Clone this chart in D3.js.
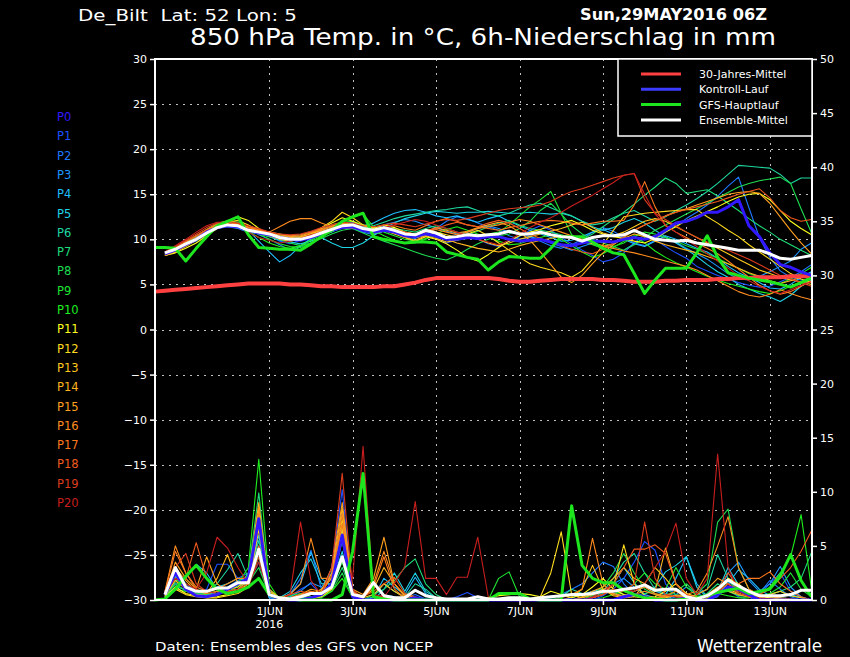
<!DOCTYPE html>
<html>
<head>
<meta charset="utf-8">
<script src="https://cdn.jsdelivr.net/npm/d3@7"></script>
<style>
body { margin: 0; background: #000; }
svg { display: block; }
text { font-family: "DejaVu Sans", sans-serif; fill: #fff; }
</style>
</head>
<body>
<div id="chart"></div>
<script>
// ---- data (6h steps, index 0 = 29 May 2016 06Z) ----
var memberNames = ['P0','P1','P2','P3','P4','P5','P6','P7','P8','P9','P10',
    'P11','P12','P13','P14','P15','P16','P17','P18','P19','P20'];
var memberColors = ['#3218ff','#1e50ff','#1e78ff','#1e96ff','#1ebeff','#1ed2e6','#1ed7a0',
    '#1edc78','#1edc50','#1ee632','#1ef01e','#ffff1e','#ffdc1e','#ffc81e','#ffb41e',
    '#ffa01e','#ff8c1e','#ff781e','#f05a1e','#dc3c1e','#c81e1e'];

// member temperatures, index 1..63
var memberTemp = [
 [8.4,8.8,9.4,10.0,10.8,11.3,11.5,11.4, 11.0,10.7,10.5,10.2,10.0,9.9,10.2,10.6, 11.0,11.3,11.4,11.0,10.8,11.0,10.8,10.4, 10.3,10.6,10.4,10.0,10.0,10.2,10.1,10.3, 10.3,10.0,9.8,9.9,10.0,9.7,9.4,9.3, 9.6,9.8,9.8,9.7,10.0,10.2,10.0,10.3, 11.0,11.8,12.0,12.4,13.0,13.0,13.6,14.4, 11.5,10.3,8.5,7.2,6.9,6.4,6.0],
 [8.4,8.9,9.6,10.2,10.9,11.5,11.8,11.6, 11.2,10.9,10.4,9.8,9.5,9.9,10.5,11.0, 11.4,11.8,11.9,11.4,11.1,11.4,11.2,10.8, 10.4,10.8,10.2,9.6,9.9,10.3,10.0,9.5, 9.2,9.8,10.3,11.0,11.5,11.0,10.2,9.5, 8.8,8.2,7.5,7.8,8.5,9.6,10.5,10.0, 9.2,8.5,7.9,7.0,6.5,6.0,5.6,5.2, 4.9,4.7,4.8,5.3,5.8,5.5,5.2],
 [8.6,9.0,9.4,9.8,10.5,11.2,11.7,11.9, 11.3,10.5,10.0,9.4,8.8,9.2,9.9,10.6, 11.0,11.3,11.2,10.8,10.5,10.9,10.8,10.2, 10.1,10.6,11.2,12.0,12.5,12.3,11.8,11.4, 11.0,10.4,10.0,10.2,9.8,9.3,9.0,9.4, 10.0,10.8,11.3,10.9,10.2,9.6,9.3,9.9, 10.8,11.5,12.3,13.0,13.8,14.8,15.9,16.9, 13.5,10.2,8.0,6.5,5.8,6.4,7.2],
 [8.5,8.8,9.3,10.0,10.6,11.2,11.4,11.2, 10.8,10.6,10.7,10.5,10.3,10.2,10.4,10.8, 11.2,11.6,11.7,11.4,11.2,11.6,11.9,12.2, 12.0,11.6,11.3,10.9,10.6,10.8,11.2,11.5, 11.2,10.8,10.5,10.3,10.0,9.6,9.2,8.8, 9.2,9.6,9.0,8.4,8.8,9.5,10.1,10.4, 10.2,9.7,9.0,8.4,7.8,7.0,6.2,5.6, 5.5,5.9,6.4,7.0,7.6,8.9,9.6],
 [8.6,9.0,9.7,10.4,11.0,11.4,11.8,11.7, 11.0,9.8,8.6,7.5,8.2,9.3,10.1,10.5, 10.8,11.3,11.8,11.5,11.8,12.4,12.9,13.2, 13.3,13.0,12.6,12.4,12.6,12.2,11.9,12.3, 12.6,12.0,11.5,11.0,10.6,10.2,9.8,9.9, 10.3,10.8,11.1,10.6,10.0,9.5,9.2,9.8, 10.4,10.0,9.5,9.0,8.6,7.9,7.0,6.3, 5.8,5.2,4.6,4.5,5.0,5.8,6.4],
 [8.4,8.8,9.4,10.0,10.7,11.2,11.5,11.3, 10.9,10.7,10.3,9.9,9.7,9.5,9.8,10.2, 9.6,9.1,9.1,9.6,10.4,11.2,11.8,12.3, 12.6,12.9,13.1,13.0,12.9,13.0,13.0,13.1, 13.0,12.9,12.9,13.0,12.9,12.8,12.9,12.6, 12.0,11.4,11.0,11.3,11.9,12.3,11.8,11.0, 10.3,9.6,8.9,8.1,7.2,6.4,5.8,5.0, 4.5,4.0,3.6,3.1,3.8,4.8,5.5],
 [8.5,9.0,9.6,10.2,10.8,11.3,11.6,11.4, 11.0,10.9,10.8,10.6,10.4,10.5,10.8,11.2, 11.6,11.9,11.7,11.3,11.5,11.9,12.3,12.6, 12.8,13.0,13.2,13.3,13.5,13.6,13.2,12.8, 12.6,12.9,13.4,13.8,14.0,13.5,13.0,12.6, 12.0,11.6,11.8,12.4,12.9,13.2,12.6,12.0, 12.5,13.2,13.8,14.5,15.3,16.2,17.2,18.2, 18.1,18.0,17.9,17.2,16.2,16.8,16.8],
 [8.3,8.8,9.5,10.1,10.9,11.6,12.0,11.8, 11.3,11.0,10.8,10.4,10.1,10.0,10.2,10.5, 10.9,11.2,11.3,11.0,10.6,10.9,11.2,11.0, 10.8,11.2,11.5,11.2,10.8,10.5,10.9,11.4, 11.8,12.1,11.6,11.2,11.0,10.8,10.5,10.2, 10.0,10.6,11.4,12.2,13.0,13.9,14.9,15.8, 16.8,16.2,15.1,15.3,15.5,14.8,14.0,13.2, 12.3,11.5,10.8,10.0,9.4,8.8,8.2],
 [8.6,9.1,9.8,10.4,11.0,11.5,11.7,11.5, 11.0,10.6,10.3,10.0,9.6,9.3,9.6,10.1, 10.6,11.0,11.2,10.7,10.2,9.8,9.4,9.0, 8.6,8.2,7.9,7.7,8.2,8.9,9.5,10.0, 10.4,10.6,11.2,12.0,13.2,14.0,12.8,11.5, 10.6,10.0,9.6,9.2,8.8,9.4,10.2,11.0, 11.6,12.2,12.8,13.4,14.0,14.6,15.2,15.8, 16.2,16.5,16.7,16.9,16.2,13.4,10.7],
 [8.4,8.9,9.5,10.2,11.0,11.7,12.1,11.9, 11.2,10.6,10.0,9.5,9.2,9.1,9.6,10.4, 11.2,12.0,12.5,12.8,11.4,10.8,10.4,10.0, 9.8,10.1,10.4,10.2,9.9,10.1,10.4,10.6, 10.8,11.6,12.6,13.6,14.4,15.3,12.9,10.5, 9.8,9.4,9.0,9.2,9.6,10.3,10.8,10.6, 10.2,9.8,9.3,8.9,8.4,7.9,7.3,6.8, 6.2,5.8,5.4,5.1,5.6,6.2,6.9],
 [8.5,9.0,9.6,10.3,11.1,11.8,12.0,11.6, 10.9,10.2,9.6,9.2,9.0,9.3,9.9,10.6, 11.3,11.9,12.0,11.6,11.0,10.4,9.9,9.6, 9.6,10.0,10.6,11.1,11.4,11.0,10.6,10.2, 9.8,9.4,9.5,9.9,10.2,10.5,10.0,9.3, 8.6,8.0,8.4,9.1,9.8,10.4,9.6,8.7, 8.0,7.4,6.9,6.4,5.9,5.5,5.1,4.8, 4.5,4.2,4.0,4.3,4.8,5.3,5.9],
 [8.2,8.5,9.0,9.6,10.4,11.2,11.9,12.5, 12.1,11.2,10.5,10.2,10.0,10.1,10.5,11.2, 11.8,12.4,12.0,11.5,11.2,11.6,11.3,10.8, 10.6,10.3,10.0,9.5,8.8,8.0,7.6,8.3, 9.1,9.8,10.4,10.8,11.1,11.5,11.8,12.1, 11.6,11.0,10.6,10.3,10.1,9.8,9.6,10.1, 10.8,11.4,12.1,12.6,13.1,13.6,14.2,14.7, 15.0,15.1,14.4,13.2,12.0,11.2,10.5],
 [8.2,8.6,9.2,9.9,10.7,11.4,11.9,12.1, 11.6,11.0,10.4,10.0,9.8,10.0,10.6,11.3, 12.0,13.0,12.4,11.6,11.3,11.0,10.6,10.2, 9.8,10.3,10.8,10.5,10.2,10.6,11.0,10.4, 9.6,8.8,8.0,7.3,6.9,6.6,6.3,5.8, 6.5,7.8,9.4,11.0,12.5,12.7,12.9,13.0, 13.1,13.2,13.3,13.3,12.5,11.8,11.0,10.3, 9.4,8.6,7.8,7.0,6.2,5.6,5.2],
 [8.2,8.7,9.3,9.9,10.6,11.2,11.5,11.4, 11.0,10.9,10.7,10.4,10.2,10.3,10.6,11.0, 11.4,11.9,11.6,11.1,10.7,10.9,11.1,10.6, 10.2,10.4,10.1,9.7,9.9,10.3,10.0,9.6, 9.3,9.6,10.0,10.3,10.6,10.9,11.2,11.6, 11.9,11.3,10.7,10.4,10.8,11.4,12.0,12.3, 12.0,11.4,10.8,10.2,9.6,9.0,8.4,7.8, 7.2,6.6,6.2,5.8,5.5,5.3,5.0],
 [8.3,8.8,9.5,10.2,11.0,11.6,11.8,11.6, 11.1,10.8,10.4,10.1,10.0,10.2,10.5,10.9, 11.2,11.4,11.3,11.0,10.8,11.0,10.7,10.2, 9.9,10.4,10.6,10.0,9.6,9.3,9.0,8.8, 8.6,8.9,9.3,9.6,9.9,10.1,10.4,10.3, 9.9,9.5,9.2,9.5,10.1,10.6,10.3,9.8, 9.4,9.1,8.8,8.5,8.1,7.7,7.3,6.8, 6.3,5.9,5.4,5.1,5.4,5.8,6.2],
 [8.2,8.7,9.4,10.0,10.8,11.4,11.7,11.6, 11.2,11.0,10.8,10.5,10.3,10.4,10.7,11.1, 11.5,11.8,11.5,11.1,10.9,11.2,11.0,10.6, 10.4,10.9,11.3,11.0,10.7,10.9,11.3,11.6, 11.9,11.5,10.8,9.9,8.6,7.2,5.8,5.2, 6.0,7.3,8.5,9.4,10.2,11.0,11.6,12.1, 12.6,13.0,13.4,13.8,14.2,14.6,15.0,15.2, 15.3,15.1,14.0,12.5,11.0,9.6,8.4],
 [8.3,8.8,9.4,10.1,10.9,11.5,11.8,11.7, 11.3,11.0,10.8,11.4,12.0,12.3,12.3,11.8, 11.4,11.2,11.3,11.0,10.8,11.1,11.0,10.6, 10.3,10.8,11.1,10.8,10.5,10.8,11.2,11.4, 11.6,11.9,12.2,12.0,11.6,11.2,10.8,10.4, 10.0,9.6,9.3,9.0,8.7,8.5,8.2,7.9, 7.6,7.3,7.0,6.6,6.0,5.4,4.8,4.2, 3.8,3.6,3.9,4.4,4.0,3.6,3.3],
 [8.4,9.0,9.7,10.4,11.1,11.7,11.9,11.7, 11.4,11.1,10.8,10.6,10.4,10.5,10.8,11.1, 11.4,11.7,11.5,11.2,11.0,11.3,11.5,11.2, 11.0,11.5,12.0,12.3,12.0,11.6,11.4,11.2, 11.0,11.3,11.5,11.8,12.0,12.1,12.0,11.8, 11.6,11.8,12.0,12.0,12.1,13.8,16.4,13.6, 11.5,10.8,10.2,9.6,9.0,8.4,7.6,6.7, 5.8,4.9,4.3,3.9,4.2,4.8,5.4],
 [8.5,9.1,9.8,10.4,11.0,11.4,11.6,11.5, 11.2,10.9,10.6,10.3,10.0,10.1,10.4,10.8, 11.1,11.4,11.5,11.2,11.0,11.2,11.1,10.8, 10.6,10.9,11.2,11.6,11.9,11.6,11.4,11.8, 12.1,11.8,11.2,10.6,10.1,9.7,9.3,8.9, 8.6,8.4,8.9,9.6,10.3,11.0,11.6,12.1, 12.6,13.0,13.3,13.6,13.9,14.2,14.6,15.0, 15.3,15.6,14.6,13.2,12.4,12.0,12.2],
 [8.6,9.2,9.9,10.6,11.3,11.8,12.0,11.8, 11.5,11.2,10.8,10.6,10.5,10.6,10.9,11.3, 11.6,11.9,11.8,11.5,11.4,11.6,11.8,11.6, 11.4,11.7,12.0,12.2,12.1,12.3,12.6,12.9, 13.2,13.4,13.5,13.6,13.8,14.2,14.8,15.3, 15.6,16.0,16.4,16.8,17.1,17.3,14.4,12.9, 12.2,11.5,10.8,10.2,9.7,9.2,8.8,8.3, 7.8,7.2,6.6,6.0,5.6,5.2,4.8],
 [8.6,9.3,10.0,10.8,11.5,11.9,11.9,11.4, 10.8,10.2,9.9,9.6,9.8,10.1,10.5,10.8, 11.1,11.3,11.4,11.2,11.0,11.3,11.6,11.9, 12.2,12.0,11.6,11.2,10.8,10.4,10.0,9.7, 9.4,9.9,10.6,11.3,11.9,12.4,13.0,13.7, 14.3,14.9,15.6,16.3,17.1,17.3,15.0,12.8, 11.6,10.8,10.0,9.2,8.4,7.6,6.8,6.0, 5.4,4.8,4.3,4.0,4.4,4.9,5.3]
];

// member 6h precipitation (mm), index 1..63
var memberPrecip = [
 [0.5,2.5,1.0,0.4,0.3,0.5,1.0,1.5, 2.0,7.5,0.5,0.1,0,0,0.2,0.5, 1.5,6.0,0.3,0,0,0,0,0, 0.2,0,0,0,0,0,0,0, 0,0,0,0,0,0,0,0, 0,0,0,0,0.3,0.5,0.3,0, 0,0,0.2,0,0,0.5,1.2,1.0, 0.5,0,0,0,0,0,0],
 [0.3,1.5,0.8,0.5,1.0,3.3,3.3,2.0, 2.5,4.5,0.3,0,0.3,1.0,1.5,0.5, 3.0,10.2,0.5,0,0,0,0,0, 0,0,0,0,0.3,0.7,0.2,0, 0,0,0,0,0,0,0,0, 0,0,0.4,1.0,2.0,3.5,5.4,4.6, 1.5,0.4,0,0,0,0.5,1.0,0.3, 0,0.5,1.5,2.5,0.8,0.2,0],
 [0.4,2.0,1.2,0.6,0.4,0.8,1.2,1.8, 2.2,5.0,0.2,0,0.5,2.0,4.6,1.0, 2.0,7.0,0.3,0,0,0,0,0.2, 0.5,0.1,0,0,0,0,0,0, 0,0,0,0,0,0.2,0.5,1.0, 1.5,2.5,3.5,3.1,1.5,0.5,0.2,0, 0,0.3,0.6,0.2,0,0.3,1.6,1.2, 0.4,0.6,1.8,1.0,0.3,0,0],
 [0.6,2.8,1.5,0.8,0.5,0.6,1.0,1.4, 1.5,3.5,0.2,0.2,0.3,0.8,1.6,1.2, 2.5,8.5,0.4,0,0,0.5,0.3,0, 0,0,0,0,0,0,0,0, 0,0,0,0,0,0,0,0, 0,0.3,0.8,1.5,2.0,1.2,0.5,0.2, 0,0.5,1.2,0.6,0.2,0.4,2.5,3.5, 1.8,0.8,1.5,3.1,1.2,0.3,0],
 [0.5,1.8,2.0,3.3,2.5,1.0,0.8,1.0, 1.8,6.0,0.4,0,0.6,1.5,4.4,2.0, 1.2,5.5,0.4,0,0.2,2.0,1.2,0.5, 2.1,0.6,0,0,0,0,0,0, 0,0,0,0,0,0,0,0.2, 0.5,0.8,1.0,0.6,0.3,0.8,1.2,0.8, 0.5,2.0,4.0,1.5,0.3,0.5,1.5,2.8, 2.0,1.0,0.4,0.2,0.1,0,0],
 [0.3,1.2,1.0,0.8,0.8,1.2,1.5,2.0, 1.8,4.0,0.3,0.2,0.8,2.5,3.8,1.5, 1.5,4.5,0.5,0,0,1.0,2.5,0.8, 2.5,0.8,0.2,0,0,0,0,0, 0,0,0,0,0,0,0,0, 0,0.2,0.5,1.5,3.0,1.6,0.5,1.2, 2.6,3.2,4.0,1.2,0.2,0.8,3.0,1.4, 0.6,0.2,0,0.3,0.5,0.2,0],
 [0.5,2.2,1.0,0.5,0.7,1.5,2.8,4.3, 2.0,5.5,0.6,0.1,0.2,0.5,0.6,0.8, 1.5,4.0,0.5,0,0.3,1.5,0.8,0.3, 1.5,1.0,0.2,0,0,0,0,0, 0,0,0,0,0,0,0.3,1.0, 0.6,0.4,0.8,2.0,3.5,4.3,2.5,1.0, 0.6,0.4,0.2,0.5,1.0,4.2,2.0,0.6, 0.3,0.2,0.5,0.8,0.4,0.2,0],
 [0.4,1.6,1.2,0.5,0.3,0.5,0.8,1.2, 2.5,9.9,1.0,0,0.1,0.2,0.3,0.5, 1.0,3.0,0.5,0,0.5,1.0,1.8,3.0, 3.8,1.5,0.5,0,0,0,0,0, 0,0,0,0,0,0,0,0, 0,0.4,0.6,0.8,0.5,0.4,0.6,0.8, 1.0,0.5,0.3,0.2,0.6,1.5,0.8,0.4, 0.3,0.2,0.5,0.8,1.2,2.0,4.4],
 [0.5,1.4,0.9,0.6,0.5,0.8,1.0,1.3, 1.6,3.0,0.5,0.2,0.4,0.6,0.3,0.2, 0.8,2.5,0.2,0,0,0,0,0, 0,0,0,0,0,0,0,0, 0,0,0,0,0,0,0,0, 0,0.5,1.2,2.5,4.3,2.5,1.0,0.5, 0.3,0.8,1.5,0.6,1.5,7.2,8.4,3.0, 1.0,0.4,0.2,0.1,0,0,0],
 [0.3,1.0,0.8,0.5,0.4,0.6,0.8,1.0, 1.5,4.0,0.4,0,0.2,0.4,0.6,0.5, 1.2,3.5,0.4,0,0,0,0,0, 0,0,0,0,0,0,0,0, 2.0,2.6,0.3,0,0,0,0,0, 0.3,0.5,0.8,1.0,0.8,1.5,2.5,1.5, 1.0,3.0,1.2,0.4,0.2,0.6,1.8,1.0, 0.5,0.3,0.6,1.2,2.5,1.0,0.3],
 [0.5,2.0,1.2,0.8,0.6,0.8,1.0,1.5, 3.0,13.0,1.5,0,0,0,0.2,0.3, 0.8,2.0,0.2,0,0,0,0,0, 0,0,0,0,0,0,0,0, 0,0,0,0,0,0,0,0, 0,0,0.2,0.5,0.8,0.6,0.3,0.2, 0.4,0.8,0.5,0.2,0.3,0.6,0.4,0.2, 0.2,0.5,1.2,2.5,4.0,7.9,1.0],
 [0.3,1.2,0.6,0.4,0.2,0.3,0.5,0.8, 1.5,7.0,0.8,0.2,0,0,0.2,0.4, 1.5,7.0,0.6,0,0,0.3,0.2,0, 0,0,0,0,0,0,0,0.2, 0.4,0.5,0.6,0.5,0.3,0.8,0.5,0.2, 0.5,1.2,2.0,1.0,0.5,0.3,0.2,0.3, 0.8,1.5,0.6,0.3,0.2,1.0,2.0,1.5, 0.6,0.3,0.2,0.1,0,0,0],
 [0.2,1.0,0.5,0.3,0.2,0.2,0.4,0.6, 1.2,6.5,0.6,0,0,0,0.1,0.3, 1.0,6.5,0.4,0,0,0,0,0, 0,0,0,0,0,0,0,0, 0,0,0,0,0.3,2.5,6.3,0.5, 0.2,0.5,1.0,1.2,5.1,1.5,0.4,0.2, 0.2,0.4,0.3,0.2,0.1,0.5,1.0,0.6, 0.3,0.1,0,0,0,0,0],
 [0.4,1.8,1.0,0.5,0.4,0.6,1.0,1.2, 2.0,8.0,0.8,0,0,0.2,0.5,1.0, 2.0,7.5,0.5,0.2,0.5,1.5,0.8,0.2, 0,0,0,0,0,0,0,0, 0,0,0,0,0,0,0,0.3, 1.0,3.2,1.0,0.4,0.2,0.3,1.5,3.0, 2.0,0.8,0.3,0.2,0.5,1.2,0.8,0.5, 0.3,0.2,0.5,0.8,0.4,0.2,0],
 [0.5,3.0,1.8,0.8,0.6,2.0,4.2,1.5, 2.0,9.0,1.0,0.2,0,0.3,0.8,0.5, 2.5,8.5,0.8,0.3,1.0,3.0,1.5,0.4, 0,0,0,0,0,0,0,0, 0,0,0,0,0,0,0,0, 0.3,0.8,1.2,2.0,3.0,2.0,1.5,0.8, 4.8,1.5,0.5,0.2,0.3,0.8,1.5,0.8, 0.4,0.2,0,0,0,0,0],
 [0.6,3.5,2.0,1.0,4.0,1.5,0.8,1.0, 1.8,8.5,0.8,0,0.2,0.5,1.0,0.8, 3.0,9.0,1.0,0.5,2.0,5.8,1.5,0.3, 0,0,0,0,0,0,0,0, 0,0,0,0,0,0,0,0, 0.2,0.5,0.8,0.6,0.4,0.8,1.2,0.6, 0.4,0.3,0.2,0.5,1.0,2.0,1.5,0.6, 0.3,0.2,0.1,0,0,0,0],
 [0.8,5.0,2.5,1.2,0.8,1.0,1.5,2.0, 2.0,8.0,0.6,0.2,0.5,1.5,5.7,2.0, 2.0,8.0,0.8,0.2,1.5,4.5,1.5,0.5, 0.2,0,0,0,0,0,0,0, 0,0,0,0,0,0,0.2,0.5, 1.0,5.7,1.5,0.5,0.3,0.5,0.8,0.5, 0.3,0.4,0.5,0.8,2.5,5.0,7.7,3.0, 1.0,0.5,0.3,0.2,0.1,0,0],
 [0.7,4.5,2.5,1.0,0.6,0.8,1.0,1.5, 1.8,7.0,0.5,0,0.2,0.5,0.8,0.6, 2.2,7.0,0.6,0.3,1.2,4.0,1.0,0.2, 0,0,0,0,0,0,0,0, 0,0,0,0,0,0,0,0, 0,0.2,0.5,1.0,0.8,0.5,0.3,0.2, 0.4,0.8,0.5,0.2,0.3,0.6,1.0,1.5, 2.0,2.0,2.6,1.5,0.8,0.3,0],
 [0.6,2.5,2.0,5.3,2.0,1.0,0.8,1.0, 1.5,5.0,0.5,0.2,0.5,0.8,0.6,0.5, 1.5,6.0,0.5,0.3,0.8,1.5,2.1,0.6, 0.3,0,0,0,0,0,0,0, 0,0,0,0,0,0,0,0, 0,0.2,0.5,1.5,3.0,4.7,4.7,5.1, 4.3,1.5,0.5,0.2,0.3,1.0,2.5,1.2, 0.6,0.5,1.0,2.0,3.0,4.5,6.4],
 [0.8,3.0,4.3,1.5,0.8,0.6,0.8,1.0, 1.2,4.0,0.4,0,0,0,0.2,0.5, 3.0,11.7,1.0,0,0,0.5,0.2,0, 0,0,0,0,0,0,0,0, 0,0,0,0,0,0,0,0, 0,0.2,0.5,1.0,0.8,1.5,7.2,2.0, 0.5,0.3,0.2,0.1,0.3,0.8,1.5,0.6, 0.3,0.1,0,0,0,0,0],
 [0.5,2.0,1.5,1.0,2.5,5.8,4.8,3.0, 1.5,3.5,0.5,0,0.5,7.2,1.8,0.5, 1.5,4.0,2.0,14.2,0.5,0.3,1.5,3.1, 9.1,2.0,2.0,0.5,2.1,2.1,5.8,0.3, 0,0,0,0,0,0,0,0, 0,0.3,0.8,1.5,1.0,0.8,1.5,3.0, 4.5,7.1,2.0,0.5,2.0,13.5,3.0,0.8, 0.4,0.2,0.1,0,0,0,0]
];

// GFS main run, index 0..63
var gfsTemp = [9.1,9.1,9.0,7.6,9.0,10.3,11.5,12.0, 12.5,10.5,9.1,9.0,8.9,8.9,8.8,9.5,
    10.3,11.0,12.0,12.5,12.9,10.3,10.0,9.8, 9.6,9.7,9.7,9.6,8.6,8.3,8.0,7.8,
    6.6,7.5,8.1,8.0,7.9,7.9,9.0,10.3, 10.3,10.3,9.7,9.0,8.5,8.3,6.2,4.0,
    5.5,6.8,6.8,6.8,8.5,10.4,8.0,6.3, 6.0,5.7,5.5,5.3,5.0,4.7,5.2,5.7];
var gfsPrecip = [0,0.1,1.0,2.2,3.2,2.0,1.0,0.6, 0.8,1.2,2.0,0.5,0.2,0.1,0,0,
    0,0,0.5,4.5,11.7,0.3,0.1,0, 0,0,0,0,0,0,0,0,
    0,0.6,0.6,0.6,0.1,0,0,0, 8.7,3.2,2.0,1.6,1.6,0.9,0.5,0.2,
    0.1,0,0,0.1,0.2,0.4,0.7,0.9, 1.1,0.6,0.8,1.0,2.2,4.2,1.8,0.3];

// ensemble mean, index 1..63
var meanTemp = [8.5,8.9,9.5,10.0,10.7,11.3,11.6,11.5, 11.0,10.8,10.6,10.2,10.0,10.0,10.3,10.7,
    11.1,11.5,11.6,11.2,11.0,11.3,11.0,10.6, 10.5,11.0,10.7,10.2,10.3,10.5,10.4,10.5,
    10.6,10.9,10.6,10.6,10.8,10.5,10.3,10.2, 9.8,10.2,10.4,10.4,10.5,11.0,10.5,10.0,
    9.9,9.8,9.9,9.6,9.4,9.2,9.0,8.8, 8.8,8.8,8.4,7.9,7.8,8.0,8.2];
var meanPrecip = [0.5,3.0,1.2,0.8,0.8,1.1,1.1,1.6, 1.6,4.7,0.5,0.2,0.1,0.3,0.6,0.6,
    1.2,4.0,0.5,0.3,1.6,0.4,0.2,0.2, 0.9,0.4,0.2,0.1,0.1,0.1,0.3,0.1,
    0.1,0.2,0.2,0.1,0.2,0.3,0.4,0.5, 0.5,0.6,0.8,0.8,1.0,1.1,1.4,0.9,
    1.0,1.0,0.3,0.1,0.4,1.0,1.85,1.3, 0.8,0.4,0.4,0.4,0.5,0.9,0.9];

// 30-year climatology, index 0..63
var climTemp = [4.2,4.3,4.4,4.5,4.6,4.7,4.8,4.9, 5.0,5.1,5.1,5.1,5.1,5.0,5.0,4.9,
    4.8,4.8,4.7,4.7,4.7,4.7,4.8,4.8, 5.0,5.2,5.5,5.7,5.7,5.7,5.7,5.7,
    5.7,5.6,5.4,5.3,5.3,5.4,5.5,5.6, 5.6,5.6,5.6,5.5,5.5,5.4,5.3,5.3,
    5.3,5.4,5.4,5.5,5.5,5.5,5.6,5.6, 5.7,5.7,5.8,5.8,5.8,5.9,5.9,5.9];

var tempTicks = [-30,-25,-20,-15,-10,-5,0,5,10,15,20,25,30];
var precipTicks = [0,5,10,15,20,25,30,35,40,45,50];
var dateTickDays = [1,3,5,7,9,11,13];
var dateTickLabels = ['1JUN','3JUN','5JUN','7JUN','9JUN','11JUN','13JUN'];
var legendNames = ['30-Jahres-Mittel','Kontroll-Lauf','GFS-Hauptlauf','Ensemble-Mittel'];
var legendColors = ['#ff4040','#3c3cff','#1ee61e','#ffffff'];

// ---- chart ----
var width = 850, height = 657;
var plotL = 155, plotR = 812, plotT = 59, plotB = 600;

var svg = d3.select('#chart').append('svg')
    .attr('width', width)
    .attr('height', height);

svg.append('rect')
    .attr('width', width)
    .attr('height', height)
    .attr('fill', '#000');

var t0 = Date.UTC(2016, 4, 29, 6);
function timeAt(i) {
    return new Date(t0 + i * 6 * 3600 * 1000);
}
var dateTicks = dateTickDays.map(function (d) { return new Date(Date.UTC(2016, 5, d, 0)); });

var x = d3.scaleUtc()
    .domain([timeAt(0), timeAt(63)])
    .range([154.5, 811.5]);
var yT = d3.scaleLinear().domain([-30, 30]).range([plotB, plotT]);
var yP = d3.scaleLinear().domain([0, 50]).range([plotB, plotT]);

// grid
var grid = svg.append('g')
    .attr('stroke', '#c0c0c0')
    .attr('stroke-width', 1)
    .attr('stroke-dasharray', '2,5')
    .attr('shape-rendering', 'crispEdges');
grid.selectAll('line.h')
    .data(tempTicks.filter(function (d) { return d > -30 && d < 30; }))
    .enter().append('line')
    .attr('x1', plotL).attr('x2', plotR)
    .attr('y1', function (d) { return Math.round(yT(d)) + 0.5; })
    .attr('y2', function (d) { return Math.round(yT(d)) + 0.5; });
grid.selectAll('line.v')
    .data(dateTicks)
    .enter().append('line')
    .attr('x1', function (d) { return Math.round(x(d)) + 0.5; })
    .attr('x2', function (d) { return Math.round(x(d)) + 0.5; })
    .attr('y1', plotT).attr('y2', plotB);

// lines
function lineFrom(start, scale) {
    return d3.line()
        .x(function (d, i) { return x(timeAt(i + start)); })
        .y(function (d) { return scale(d); });
}

var plot = svg.append('g').attr('fill', 'none').attr('stroke-linejoin', 'round');

// thin members P1..P20
for (var m = 1; m < memberTemp.length; m++) {
    plot.append('path')
        .attr('d', lineFrom(1, yT)(memberTemp[m]))
        .attr('stroke', memberColors[m])
        .attr('stroke-width', 1.1);
}
for (var m = 1; m < memberPrecip.length; m++) {
    plot.append('path')
        .attr('d', lineFrom(1, yP)(memberPrecip[m]))
        .attr('stroke', memberColors[m])
        .attr('stroke-width', 1.1);
}

// climatology
plot.append('path')
    .attr('d', lineFrom(0, yT)(climTemp))
    .attr('stroke', '#ff4040')
    .attr('stroke-width', 4);

// control run
plot.append('path')
    .attr('d', lineFrom(1, yT)(memberTemp[0]))
    .attr('stroke', memberColors[0])
    .attr('stroke-width', 3);
plot.append('path')
    .attr('d', lineFrom(1, yP)(memberPrecip[0]))
    .attr('stroke', memberColors[0])
    .attr('stroke-width', 3);

// GFS main run
plot.append('path')
    .attr('d', lineFrom(0, yT)(gfsTemp))
    .attr('stroke', '#1ee61e')
    .attr('stroke-width', 3);
plot.append('path')
    .attr('d', lineFrom(0, yP)(gfsPrecip))
    .attr('stroke', '#1ee61e')
    .attr('stroke-width', 3);

// ensemble mean
plot.append('path')
    .attr('d', lineFrom(1, yT)(meanTemp))
    .attr('stroke', '#fff')
    .attr('stroke-width', 3);
plot.append('path')
    .attr('d', lineFrom(1, yP)(meanPrecip))
    .attr('stroke', '#fff')
    .attr('stroke-width', 3);

// axes
function fmtT(d) { return d < 0 ? '\u2212' + Math.abs(d) : String(d); }

var axL = svg.append('g')
    .attr('transform', 'translate(' + plotL + ',0)')
    .call(d3.axisLeft(yT).tickValues(tempTicks).tickSize(5).tickPadding(3).tickFormat(fmtT));
var axR = svg.append('g')
    .attr('transform', 'translate(' + plotR + ',0)')
    .call(d3.axisRight(yP).tickValues(precipTicks).tickSize(5).tickPadding(3));
var axB = svg.append('g')
    .attr('transform', 'translate(0,' + plotB + ')')
    .call(d3.axisBottom(x).tickValues(dateTicks).tickSize(5).tickPadding(2)
        .tickFormat(function (d, i) { return dateTickLabels[i]; }));

[axL, axR, axB].forEach(function (a) {
    a.select('.domain').remove();
    a.selectAll('line').attr('stroke', '#fff').attr('stroke-width', 1.5);
    a.selectAll('text')
        .attr('fill', '#fff')
        .style('font-family', '"DejaVu Sans", sans-serif')
        .style('font-size', '11px');
});
axB.append('text')
    .attr('x', x(dateTicks[0]))
    .attr('y', 28)
    .attr('text-anchor', 'middle')
    .style('font-size', '11px')
    .text('2016');

// frame
svg.append('rect')
    .attr('x', plotL).attr('y', plotT)
    .attr('width', plotR - plotL).attr('height', plotB - plotT)
    .attr('fill', 'none')
    .attr('stroke', '#fff')
    .attr('stroke-width', 2);

// legend
var lg = svg.append('g');
lg.append('rect')
    .attr('x', 618).attr('y', plotT)
    .attr('width', plotR - 618).attr('height', 77)
    .attr('fill', '#000')
    .attr('stroke', '#fff')
    .attr('stroke-width', 1.5);
legendNames.forEach(function (name, i) {
    var ly = 74 + i * 15.3;
    lg.append('line')
        .attr('x1', 641).attr('x2', 681)
        .attr('y1', ly).attr('y2', ly)
        .attr('stroke', legendColors[i])
        .attr('stroke-width', 3);
    lg.append('text')
        .attr('x', 699).attr('y', ly + 4)
        .style('font-size', '11px')
        .text(name);
});

// member labels
svg.append('g').selectAll('text')
    .data(memberNames)
    .enter().append('text')
    .attr('x', 57)
    .attr('y', function (d, i) { return 121 + i * 19.3; })
    .style('font-size', '11.5px')
    .style('fill', function (d, i) { return memberColors[i]; })
    .text(function (d) { return d; });

// titles
svg.append('text')
    .attr('x', 78).attr('y', 21)
    .attr('textLength', 219).attr('lengthAdjust', 'spacingAndGlyphs')
    .style('font-size', '15px')
    .style('white-space', 'pre')
    .text('De_Bilt  Lat: 52 Lon: 5');
svg.append('text')
    .attr('x', 580).attr('y', 20)
    .attr('textLength', 187).attr('lengthAdjust', 'spacingAndGlyphs')
    .style('font-size', '15px')
    .style('font-weight', 'bold')
    .text('Sun,29MAY2016 06Z');
svg.append('text')
    .attr('x', 190).attr('y', 45)
    .attr('textLength', 586).attr('lengthAdjust', 'spacingAndGlyphs')
    .style('font-size', '23px')
    .text('850 hPa Temp. in \u00b0C, 6h-Niederschlag in mm');
svg.append('text')
    .attr('x', 155).attr('y', 651)
    .attr('textLength', 278).attr('lengthAdjust', 'spacingAndGlyphs')
    .style('font-size', '12.5px')
    .text('Daten: Ensembles des GFS von NCEP');
svg.append('text')
    .attr('x', 697).attr('y', 652)
    .attr('textLength', 125).attr('lengthAdjust', 'spacingAndGlyphs')
    .style('font-size', '17px')
    .text('Wetterzentrale');
</script>
</body>
</html>
